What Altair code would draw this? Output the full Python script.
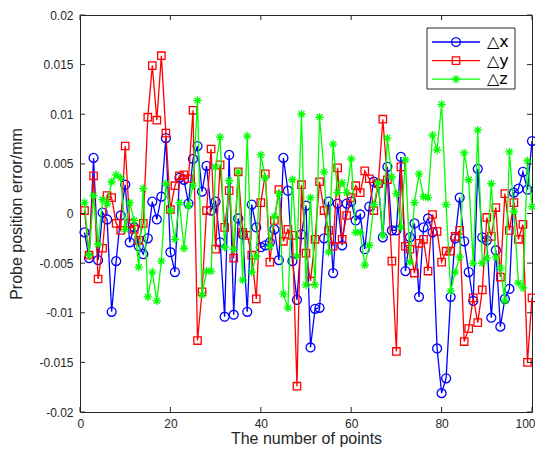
import altair as alt
import pandas as pd

# ---------------- data ----------------
points = list(range(1, 101))

dx = [-0.0019, -0.0045, 0.0056, -0.0047, 0.0001, -0.0006, -0.0099, -0.0048, -0.0002, 0.0029,
      -0.0029, -0.0014, -0.0033, -0.0041, -0.0025, 0.0012, -0.0006, 0.0017, 0.0076, -0.0039,
      -0.0059, 0.0036, 0.0034, 0.0010, 0.0055, 0.0068, 0.0022, 0.0048, 0.0003, 0.0012,
      -0.0029, -0.0104, 0.0059, -0.0102, -0.0005, -0.0021, -0.0099, 0.0009, -0.0014, -0.0034,
      -0.0032, -0.0029, -0.0016, -0.0047, 0.0056, 0.0023, -0.0048, -0.0087, -0.0021, 0.0008,
      -0.0135, -0.0096, -0.0095, -0.0025, 0.0012, -0.0060, 0.0010, -0.0032, 0.0010, 0.0012,
      -0.0007, -0.0001, -0.0036, 0.0007, 0.0032, 0.0030, -0.0024, 0.0047, -0.0017, -0.0017,
      0.0057, -0.0058, -0.0024, -0.0010, -0.0084, -0.0014, -0.0005, -0.0019, -0.0136, -0.0181,
      -0.0166, -0.0084, -0.0025, 0.0016, -0.0028, -0.0059, -0.0088, 0.0045, -0.0024, -0.0027,
      -0.0105, -0.0037, -0.0114, -0.0086, -0.0076, 0.0021, 0.0025, 0.0042, 0.0024, 0.0073]

dy = [0.0003, -0.0042, 0.0038, -0.0066, -0.0035, 0.0018, 0.0016, -0.0010, -0.0017, 0.0068,
      -0.0010, -0.0016, -0.0027, -0.0010, 0.0097, 0.0149, 0.0094, 0.0159, 0.0081, 0.0004,
      0.0028, 0.0038, 0.0039, 0.0035, 0.0104, -0.0128, -0.0079, 0.0003, 0.0065, -0.0036,
      0.0049, -0.0014, 0.0023, -0.0045, 0.0042, -0.0019, -0.0022, -0.0042, -0.0086, 0.0011,
      0.0040, -0.0049, -0.0007, 0.0024, -0.0028, -0.0016, -0.0022, -0.0174, 0.0029, -0.0040,
      -0.0068, -0.0026, 0.0032, 0.0003, -0.0017, -0.0033, 0.0046, -0.0026, -0.0002, 0.0016,
      0.0028, 0.0021, 0.0043, 0.0035, 0.0003, 0.0030, 0.0095, 0.0034, -0.0048, -0.0139,
      0.0047, -0.0033, -0.0036, -0.0060, -0.0030, -0.0026, -0.0058, -0.0001, -0.0018, -0.0049,
      -0.0038, -0.0038, -0.0023, -0.0017, -0.0129, -0.0116, -0.0085, -0.0110, -0.0077, -0.0004,
      -0.0023, 0.0006, -0.0064, 0.0020, -0.0017, 0.0011, -0.0026, -0.0011, -0.0150, -0.0085]

dz = [0.0011, -0.0042, 0.0018, -0.0031, 0.0014, 0.0010, 0.0032, 0.0039, 0.0036, -0.0016,
      0.0011, -0.0007, -0.0054, 0.0025, -0.0084, -0.0059, -0.0088, -0.0048, 0.0030, 0.0003,
      -0.0026, 0.0011, -0.0035, 0.0008, 0.0028, 0.0114, -0.0082, -0.0058, -0.0058, 0.0047,
      0.0077, -0.0034, 0.0033, -0.0036, 0.0042, -0.0067, 0.0078, -0.0059, -0.0043, 0.0059,
      0.0036, -0.0033, -0.0003, 0.0020, -0.0081, -0.0095, 0.0034, -0.0043, 0.0100, -0.0072,
      0.0016, -0.0072, 0.0097, 0.0042, -0.0039, 0.0070, 0.0021, 0.0031, 0.0021, 0.0055,
      -0.0019, -0.0019, -0.0052, -0.0032, 0.0009, 0.0031, -0.0022, 0.0076, 0.0037, 0.0020,
      -0.0014, 0.0054, -0.0049, 0.0011, 0.0040, 0.0017, 0.0016, 0.0079, 0.0064, 0.0110,
      0.0009, -0.0078, -0.0059, -0.0044, 0.0061, 0.0034, -0.0050, 0.0084, -0.0050, -0.0045,
      0.0030, -0.0044, -0.0055, -0.0088, 0.0062, 0.0002, -0.0070, -0.0075, 0.0053, 0.0007]

series_labels = ["\u25b3x", "\u25b3y", "\u25b3z"]
x_ticks = [0, 20, 40, 60, 80, 100]
y_ticks = [-0.02, -0.015, -0.01, -0.005, 0, 0.005, 0.01, 0.015, 0.02]

# ---------------- style ----------------
W, H = 452, 397
colors = ["#0000ff", "#ff0000", "#00ff00"]
ASTERISK = "M-1,0L1,0M0,-1L0,1M-0.7,-0.7L0.7,0.7M-0.7,0.7L0.7,-0.7"
shapes = ["circle", "square", ASTERISK]
sizes = [80, 55, 70]
AX = "#262626"
FONT = "Liberation Sans"

xs = alt.Scale(domain=[0, 100], nice=False, zero=False)
ys = alt.Scale(domain=[-0.02, 0.02], nice=False, zero=False)

x_axis = alt.Axis(values=x_ticks, ticks=False, domain=False, grid=False,
                  labelFlush=True, labelFlushOffset=3,
                  labelFontSize=12, labelColor=AX, labelFont=FONT, labelPadding=6,
                  title="The number of points", titleFontSize=16, titleFont=FONT,
                  titleFontWeight="normal", titleColor=AX, titlePadding=1)
y_axis = alt.Axis(values=y_ticks, ticks=False, domain=False, grid=False, labelFlush=False,
                  labelFontSize=12, labelColor=AX, labelFont=FONT, labelPadding=7,
                  labelExpr="replace(format(datum.value, '~g'), '\u2212', '-')",
                  title="Probe position error/mm", titleFontSize=16, titleFont=FONT,
                  titleFontWeight="normal", titleColor=AX, titlePadding=14)

frames = []
for lab, vals in zip(series_labels, [dx, dy, dz]):
    frames.append(pd.DataFrame({"n": points, "err": vals, "s": lab}))
data = pd.concat(frames, ignore_index=True)

layers = []
# invisible base carrying the axes
base = alt.Chart(data).mark_point(opacity=0).encode(
    x=alt.X("n:Q", scale=xs, axis=x_axis),
    y=alt.Y("err:Q", scale=ys, axis=y_axis),
)
layers.append(base)

for lab, col, shp, sz in zip(series_labels, colors, shapes, sizes):
    src = alt.Chart(data).transform_filter(alt.datum.s == lab)
    line = src.mark_line(color=col, strokeWidth=1.3, clip=True).encode(
        x=alt.X("n:Q", scale=xs), y=alt.Y("err:Q", scale=ys), order="n:Q")
    pts = src.mark_point(shape=shp, size=sz, filled=False, color=col,
                         strokeWidth=1.3, opacity=1).encode(
        x=alt.X("n:Q", scale=xs), y=alt.Y("err:Q", scale=ys))
    layers += [line, pts]

# inward ticks on all four sides
xt = alt.Chart(pd.DataFrame({"t": x_ticks}))
yt = alt.Chart(pd.DataFrame({"t": y_ticks}))
TL = 5
layers.append(xt.mark_rule(color=AX, strokeWidth=1).encode(
    x=alt.X("t:Q", scale=xs), y=alt.value(H), y2=alt.value(H - TL)))
layers.append(xt.mark_rule(color=AX, strokeWidth=1).encode(
    x=alt.X("t:Q", scale=xs), y=alt.value(0), y2=alt.value(TL)))
layers.append(yt.mark_rule(color=AX, strokeWidth=1).encode(
    y=alt.Y("t:Q", scale=ys), x=alt.value(0), x2=alt.value(TL)))
layers.append(yt.mark_rule(color=AX, strokeWidth=1).encode(
    y=alt.Y("t:Q", scale=ys), x=alt.value(W), x2=alt.value(W - TL)))

# legend (drawn by hand, MATLAB style)
leg_df = pd.DataFrame({"d": [0]})
lg = alt.Chart(leg_df)
layers.append(lg.mark_rect(fill="white", stroke=AX, strokeWidth=1).encode(
    x=alt.value(347), x2=alt.value(435), y=alt.value(13), y2=alt.value(74)))
for k, (lab, col, shp, sz) in enumerate(zip(series_labels, colors, shapes, sizes)):
    ry = 27 + 18.6 * k
    layers.append(lg.mark_rule(color=col, strokeWidth=1.3).encode(
        x=alt.value(352), x2=alt.value(400), y=alt.value(ry)))
    layers.append(lg.mark_point(shape=shp, size=sz, filled=False, color=col,
                                strokeWidth=1.3, opacity=1).encode(
        x=alt.value(376), y=alt.value(ry)))
    layers.append(lg.mark_text(text=lab, align="left", baseline="middle",
                               fontSize=16, font="DejaVu Sans", color="#000000").encode(
        x=alt.value(407), y=alt.value(ry)))

chart = alt.layer(*layers).properties(
    width=W, height=H,
    autosize=alt.AutoSizeParams(type="none"),
    padding={"left": 72, "top": 7, "right": 3, "bottom": 40},
    background="white",
).configure_view(stroke=AX, strokeWidth=1)

chart.save("out.html", embed_options={"renderer": "svg", "actions": False})
